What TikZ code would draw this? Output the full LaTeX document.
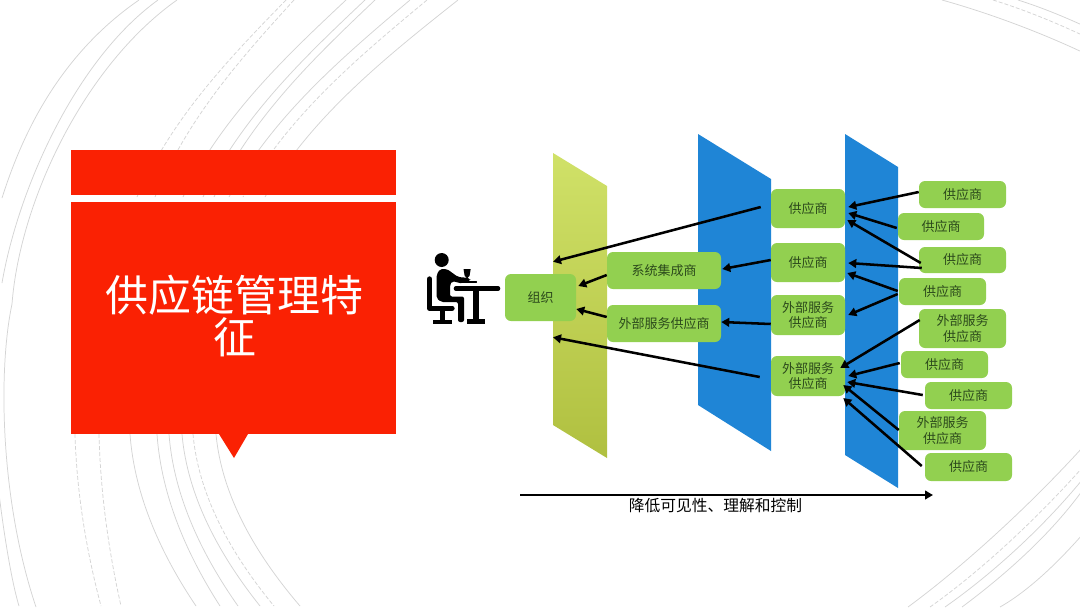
\documentclass[tikz,border=0pt]{standalone}
\usepackage{fontspec}
\setmainfont{Noto Sans CJK SC}
\usetikzlibrary{arrows.meta}
\definecolor{redbox}{HTML}{FA2103}
\definecolor{nodegreen}{HTML}{92D050}
\definecolor{panelblue}{HTML}{1F85D6}
\definecolor{arcgrey}{HTML}{D4D4D4}
\definecolor{nodetext}{HTML}{2C4A1C}
\definecolor{paneltop}{HTML}{D0E168}
\definecolor{panelbottom}{HTML}{B0C040}
\tikzset{
  gbox/.style 2 args={draw=none,fill=nodegreen,rounded corners=4.5pt,inner sep=0pt,align=center,
    minimum width=#1*0.75pt,minimum height=#2*0.75pt,text=nodetext,font=\fontsize{9.75pt}{11.5pt}\selectfont},
  arw/.style={line width=1.9pt,-{Triangle[length=6pt,width=6.5pt]},black},
  arcline/.style={draw=arcgrey,line width=0.55pt},
  arcdash/.style={draw=arcgrey,line width=0.55pt,dash pattern=on 3pt off 1.5pt},
  redfill/.style={fill=redbox,draw=none},
  icon/.style={fill=black,draw=none},
  iconline/.style={draw=black,line cap=round,line join=round},
}
% arc helpers: upper part from (x0,0) to (x1,197); lower part from (x2,434) to (x3,606)
\newcommand{\arcupper}[3]{\draw[#1] (#2,0) .. controls ({#2-0.373*(#2-#3)},57) and ({#3+0.238*(#2-#3)},117) .. (#3,197);}
\newcommand{\arclower}[3]{\draw[#1] (#2,434) .. controls ({#2+0.07*(#3-#2)},498) and ({#2+0.5*(#3-#2)},557) .. (#3,606);}
\begin{document}
\begin{tikzpicture}[x=0.75pt,y=-0.75pt]
\useasboundingbox (0,0) rectangle (1080,608);
\fill[white] (0,0) rectangle (1080,608);
\begin{scope}
\clip (0,0) rectangle (1080,608);
% background arcs, left group
\draw[arcline] (139,0) .. controls (52,60) and (18,148) .. (2,198);
\draw[arcline] (158,0) .. controls (75,60) and (18,190) .. (2,283);
\draw[arcline] (-6,440) .. controls (-4,480) and (8,570) .. (19,606);
\draw[arcline] (177,0) .. controls (85,65) and (20,200) .. (12,304) .. controls (-2,370) and (0,500) .. (36,607);
\arcupper{arcdash}{286}{137} \arclower{arcdash}{75}{101}
\arcupper{arcdash}{294}{155} \arclower{arcdash}{99}{121}
\arcupper{arcline}{346}{183} \arclower{arcline}{130}{196}
\arcupper{arcline}{365}{203} \arclower{arcline}{157}{220}
\arcupper{arcline}{375}{214} \arclower{arcline}{169}{238}
\arcupper{arcline}{410}{229} \arclower{arcline}{182}{260}
\arcupper{arcdash}{427}{243} \arclower{arcdash}{193}{274}
\arcupper{arcline}{458}{265} \arclower{arcline}{216}{300}
% top right
\draw[arcline] (942,0) .. controls (985,12) and (1035,30) .. (1082,52);
\draw[arcdash] (993,0) .. controls (1022,9) and (1052,21) .. (1082,35);
\draw[arcline] (1018,0) .. controls (1040,7) and (1060,15) .. (1082,25);
% bottom right
\draw[arcline] (908,607) .. controls (965,565) and (1030,505) .. (1082,448);
\draw[arcdash] (930,607) .. controls (985,568) and (1040,515) .. (1082,468);
\draw[arcline] (945,607) .. controls (995,572) and (1045,525) .. (1082,480);
\draw[arcline] (962,607) .. controls (1005,575) and (1050,535) .. (1082,491);
\draw[arcline] (1000,607) .. controls (1030,590) and (1060,560) .. (1082,535);
\end{scope}
% red callout
\fill[redfill] (71,150) rectangle (396,195);
\fill[redfill] (71,202) rectangle (396,434);
\fill[redfill] (219,434) -- (234,458) -- (248,434) -- cycle;
\node[text=white,align=center,inner sep=0pt,font=\fontsize{32.2pt}{31pt}\selectfont] (title) at (234.5,316) {供应链管理特\\征};
% panels
\shade[top color=paneltop,bottom color=panelbottom]
  (553,153) -- (607,186) -- (607,458) -- (553,425) -- cycle;
\fill[panelblue] (698,134) -- (771,179) -- (771,451) -- (698,405) -- cycle;
\fill[panelblue] (845,134) -- (898,167) -- (898,488) -- (845,455) -- cycle;
% person icon
\fill[icon] (441.7,260) circle (7);
\draw[iconline,line width=4pt] (429.5,279) -- (429.5,308.3) -- (452,308.3);
\fill[icon,rounded corners=1.5pt] (436.5,275) -- (440,269) -- (447,269) -- (458,277) -- (470,278) -- (470.5,281) -- (462,283.5) -- (452,281) -- (450,285) -- (450,296.5) -- (464,296.5) -- (464,322) -- (458,322) -- (458,302) -- (441,302) -- (436.5,298) -- cycle;
\draw[iconline,line width=3.6pt,line cap=butt] (442.5,309) -- (442.5,321);
\draw[iconline,line width=3.4pt,line cap=butt] (433,322) -- (452,322);
\draw[iconline,line width=3.5pt] (456,288.5) -- (498,288.5);
\draw[iconline,line width=4.5pt,line cap=butt] (476,288) -- (476,321);
\draw[iconline,line width=3.6pt,line cap=butt] (467,321.5) -- (485,321.5);
\fill[icon] (463.5,269) -- (470.7,269) -- (469.5,276) -- (467.8,277.5) -- (467.8,281) -- (466.4,281) -- (466.4,277.5) -- (464.7,276) -- cycle;
\draw[iconline,line width=0.9pt] (462,282) -- (476.5,282);
% nodes
\node[gbox={71}{47}] (org) at (540.5,297.5) {组织};
\node[gbox={114}{37}] (m1) at (664,270.5) {系统集成商};
\node[gbox={114}{37}] (m2) at (664,323.5) {外部服务供应商};
\node[gbox={74}{39}] (c1) at (808,208.5) {供应商};
\node[gbox={74}{39}] (c2) at (808,262.5) {供应商};
\node[gbox={74}{40}] (c3) at (808,315) {外部服务\\供应商};
\node[gbox={74}{40}] (c4) at (808,376) {外部服务\\供应商};
\node[gbox={87}{27}] (r1) at (962.5,194.5) {供应商};
\node[gbox={86}{27}] (r2) at (941,226.5) {供应商};
\node[gbox={87}{26}] (r3) at (962.5,260) {供应商};
\node[gbox={87}{27}] (r4) at (942.5,291.5) {供应商};
\node[gbox={87}{39}] (r5) at (962.5,328.5) {外部服务\\供应商};
\node[gbox={87}{27}] (r6) at (944.5,364.5) {供应商};
\node[gbox={87}{27}] (r7) at (968.5,395.5) {供应商};
\node[gbox={87}{39}] (r8) at (942.5,430.5) {外部服务\\供应商};
\node[gbox={87}{28}] (r9) at (968.5,467) {供应商};
% connectors
\draw[arw] ([shift={(-10,-1.5)}]c1.west) -- ([shift={(12.5,-12)}]org.north);
\draw[arw] ([shift={(-11,1)}]c4.west) -- ([shift={(12.5,16)}]org.south);
\draw[arw] ([shift={(0,4.5)}]m1.west) -- ([shift={(2,-11.5)}]org.east);
\draw[arw] ([shift={(0,-6.5)}]m2.west) -- ([shift={(0,11.5)}]org.east);
\draw[arw] ([shift={(0,-2.5)}]c2.west) -- ([shift={(1,-1.5)}]m1.east);
\draw[arw] ([shift={(0,9)}]c3.west) -- ([shift={(0,-1.5)}]m2.east);
\draw[arw] ([shift={(0,-2.5)}]r1.west) -- ([shift={(3,-1.5)}]c1.east);
\draw[arw] ([shift={(-1,1.5)}]r2.west) -- ([shift={(3,4.5)}]c1.east);
\draw[arw] ([shift={(2,3)}]r3.west) -- ([shift={(2,11.5)}]c1.east);
\draw[arw] ([shift={(3,8)}]r3.west) -- ([shift={(3,0.5)}]c2.east);
\draw[arw] ([shift={(-1,-0.5)}]r4.west) -- ([shift={(2,10.5)}]c2.east);
\draw[arw] ([shift={(-1,2.5)}]r4.west) -- ([shift={(3,0)}]c3.east);
\draw[arw] ([shift={(1,-8.5)}]r5.west) -- ([shift={(-5,-8)}]c4.east);
\draw[arw] ([shift={(-1,-1.5)}]r6.west) -- ([shift={(3,0)}]c4.east);
\draw[arw] ([shift={(-2,-0.5)}]r7.west) -- ([shift={(2,6)}]c4.east);
\draw[arw] ([shift={(0,-0.5)}]r8.west) -- ([shift={(-2,9)}]c4.east);
\draw[arw] ([shift={(-3,-1)}]r9.west) -- ([shift={(-2,22)}]c4.east);
% bottom arrow
\coordinate (chainstart) at (520,495);
\coordinate (chainend) at (933,495);
\draw[arw] (chainstart) -- (chainend);
\node[inner sep=0pt,font=\fontsize{11.8pt}{13pt}\selectfont] (chainlabel) at (715.5,506) {降低可见性、理解和控制};
\end{tikzpicture}
\end{document}
